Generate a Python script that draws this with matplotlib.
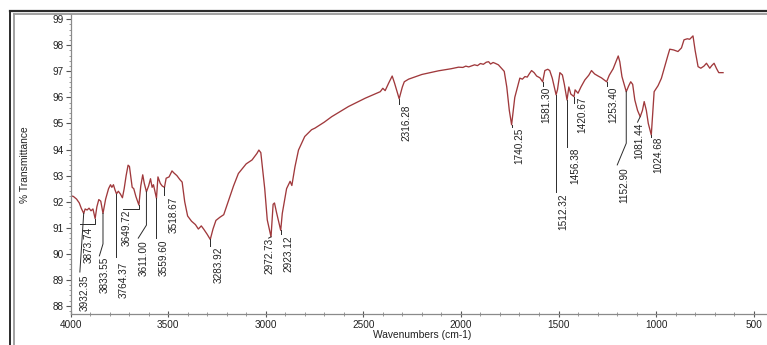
import matplotlib
matplotlib.use("Agg")
import matplotlib.pyplot as plt
from matplotlib.ticker import MultipleLocator
from matplotlib.lines import Line2D

plt.rcParams['font.family'] = ['Liberation Sans', 'DejaVu Sans']

# FTIR spectrum: wavenumber (cm-1) and % transmittance
wavenumber = [
    4000, 3985, 3969, 3955, 3945, 3932.35, 3925, 3915, 3905, 3895, 3885, 3873.74,
    3865, 3855, 3845, 3833.55, 3820, 3805, 3795, 3788, 3780, 3772, 3764.37, 3755,
    3745, 3734, 3725, 3715, 3705, 3698, 3690, 3684, 3676, 3665, 3649.72, 3640,
    3630, 3622, 3611.00, 3600, 3590, 3582, 3575, 3559.60, 3552, 3540, 3530,
    3518.67, 3510, 3495, 3480, 3470, 3455, 3440, 3428, 3415, 3400, 3380, 3360,
    3345, 3330, 3318, 3300, 3283.92, 3270, 3255, 3235, 3215, 3190, 3165, 3140,
    3100, 3070, 3045, 3035, 3025, 3005, 2992, 2972.73, 2962, 2955, 2945, 2923.12,
    2915, 2893, 2875, 2866, 2850, 2832, 2800, 2765, 2748, 2700, 2662, 2620, 2576,
    2530, 2490, 2450, 2413, 2400, 2388, 2370, 2352, 2340, 2316.28, 2300, 2290,
    2268, 2200, 2115, 2050, 2012, 1990, 1975, 1960, 1945, 1930, 1915, 1900, 1885,
    1870, 1858, 1848, 1835, 1825, 1808, 1790, 1778, 1765, 1752, 1740.25, 1724,
    1698, 1685, 1672, 1660, 1650, 1638, 1625, 1612, 1595, 1581.30, 1570, 1555,
    1545, 1532, 1512.32, 1505, 1493, 1480, 1470, 1456.38, 1447, 1437, 1420.67,
    1415, 1400, 1385, 1365, 1345, 1331, 1315, 1297, 1280, 1253.40, 1240, 1220,
    1194, 1186, 1175, 1152.90, 1140, 1130, 1120, 1109, 1095, 1081.44, 1070, 1061,
    1050, 1040, 1024.68, 1018, 1010, 990, 973, 956, 940, 930, 910, 888, 870, 857,
    840, 828, 811, 800, 785, 771, 755, 742, 732, 725, 715, 703, 690, 679, 657,
]
transmittance = [
    92.23, 92.20, 92.10, 91.95, 91.75, 91.55, 91.72, 91.68, 91.75, 91.65, 91.72, 91.35,
    91.80, 92.08, 92.02, 91.55, 92.10, 92.50, 92.65, 92.55, 92.65, 92.45, 92.30, 92.40,
    92.30, 92.15, 92.50, 93.00, 93.40, 93.35, 92.90, 92.55, 92.50, 92.20, 91.87, 92.60,
    93.03, 92.70, 92.38, 92.60, 92.88, 92.55, 92.65, 92.13, 92.95, 92.70, 92.60,
    92.55, 92.90, 92.95, 93.18, 93.10, 93.00, 92.85, 92.75, 92.00, 91.45, 91.25, 91.12,
    90.95, 91.07, 90.95, 90.75, 90.55, 90.95, 91.28, 91.40, 91.50, 92.05, 92.60, 93.08,
    93.45, 93.60, 93.85, 93.98, 93.88, 92.50, 91.30, 90.65, 91.90, 91.95, 91.60, 90.90,
    91.55, 92.50, 92.78, 92.62, 93.34, 93.98, 94.50, 94.76, 94.82, 95.05, 95.26, 95.45, 95.65,
    95.82, 95.97, 96.10, 96.22, 96.35, 96.26, 96.55, 96.82, 96.55, 95.95, 96.40, 96.60,
    96.70, 96.88, 97.02, 97.10, 97.16, 97.15, 97.20, 97.17, 97.21, 97.25, 97.22, 97.30, 97.27,
    97.35, 97.37, 97.28, 97.34, 97.31, 97.25, 97.10, 97.00, 96.40, 95.50, 94.95, 96.00,
    96.74, 96.70, 96.80, 96.78, 96.90, 97.03, 96.95, 96.82, 96.75, 96.60, 97.03, 97.08,
    97.03, 96.74, 96.10, 96.30, 96.95, 96.86, 96.50, 95.90, 96.40, 96.13, 96.03,
    96.29, 96.16, 96.40, 96.67, 96.85, 97.03, 96.90, 96.82, 96.75, 96.60, 96.85, 97.10,
    97.59, 97.37, 96.80, 96.22, 96.45, 96.60, 96.50, 95.90, 95.50, 95.26, 95.50, 95.84,
    95.50, 95.00, 94.56, 95.30, 96.22, 96.45, 96.73, 97.18, 97.60, 97.85, 97.82, 97.76, 97.90, 98.21,
    98.25, 98.23, 98.36, 97.80, 97.18, 97.12, 97.20, 97.31, 97.20, 97.12, 97.22, 97.31, 97.10, 96.95, 96.95,
]

# Labelled absorption peaks
peak_labels = [
    "3932.35", "3873.74", "3833.55", "3764.37", "3649.72", "3611.00", "3559.60",
    "3518.67", "3283.92", "2972.73", "2923.12", "2316.28", "1740.25", "1581.30",
    "1512.32", "1456.38", "1420.67", "1253.40", "1152.90", "1081.44", "1024.68",
]

# Where each label's top sits (wavenumber, transmittance)
label_pos = [
    (3925.7, 89.19), (3908.8, 91.04), (3826.8, 89.89), (3729.5, 89.70),
    (3712.0, 91.68), (3623.5, 90.53), (3524.6, 90.53), (3473.4, 92.19),
    (3242.8, 90.27), (2981.6, 90.60), (2884.2, 90.72), (2277.7, 95.71),
    (1700.8, 94.83), (1560.5, 96.40), (1475.4, 92.33), (1415.5, 94.06),
    (1376.0, 96.02), (1219.3, 96.40), (1164.4, 93.33), (1086.1, 95.02),
    (988.7, 94.48),
]

# Leader line bends after leaving each peak
leader_bends = [
    [(3952, 89.30)],
    [(3873.74, 91.15), (3952, 91.15)],
    [(3833.55, 90.38), (3852, 89.92)],
    [(3764.37, 89.88)],
    [(3649.72, 91.71), (3730, 91.71)],
    [(3611.0, 91.10), (3653, 90.60)],
    [(3559.6, 90.60)],
    [(3518.67, 92.25)],
    [(3283.92, 90.30)],
    [(2985, 90.60)],
    [(2923.12, 90.75)],
    [(2316.28, 95.75)],
    [(1740.25, 94.86)],
    [(1581.3, 96.43)],
    [(1512.32, 92.36)],
    [(1456.38, 94.10)],
    [(1420.67, 95.80)],
    [(1253.4, 96.42)],
    [(1152.9, 94.24), (1199, 93.41)],
    [(1095, 95.05)],
    [(1024.68, 94.50)],
]

W, H = 767, 345
fig = plt.figure(figsize=(W / 100, H / 100), dpi=100)
fig.patch.set_facecolor('white')

# Outer double frame
fig.add_artist(Line2D([10 / W, 10 / W], [0, 1 - 10.5 / H], transform=fig.transFigure,
                      color='#2a2a2a', lw=1.4))
fig.add_artist(Line2D([10 / W, 1], [1 - 10.5 / H, 1 - 10.5 / H], transform=fig.transFigure,
                      color='#2a2a2a', lw=1.6))
fig.add_artist(Line2D([14 / W, 14 / W], [0, 1 - 14.3 / H], transform=fig.transFigure,
                      color='#9a9a9a', lw=1.3))
fig.add_artist(Line2D([14 / W, 1], [1 - 14.3 / H, 1 - 14.3 / H], transform=fig.transFigure,
                      color='#9a9a9a', lw=1.3))

x_left, x_right = 4000, 400
px_per_unit = 0.1952
ax_left = 70.5
ax_w = (x_left - x_right) * px_per_unit
ax_bottom_px, ax_top_px = 314, 14
ax = fig.add_axes([ax_left / W, 1 - ax_bottom_px / H, ax_w / W, (ax_bottom_px - ax_top_px) / H])
ax.set_facecolor('white')

ax.plot(wavenumber, transmittance, color='#a0393c', lw=0.95)

ax.set_xlim(x_left, x_right)
ax.set_ylim(87.69, 99.20)

for side in ('top', 'right'):
    ax.spines[side].set_visible(False)
for side in ('left', 'bottom'):
    ax.spines[side].set_color('#8a8a8a')
    ax.spines[side].set_linewidth(0.9)

ax.xaxis.set_major_locator(MultipleLocator(500))
ax.xaxis.set_minor_locator(MultipleLocator(100))
ax.yaxis.set_major_locator(MultipleLocator(1))
ax.yaxis.set_minor_locator(MultipleLocator(0.2))
ax.tick_params(axis='x', which='major', direction='inout', length=4, width=0.8,
               color='#555555', labelsize=7.2, pad=2, labelcolor='#222222')
ax.tick_params(axis='x', which='minor', direction='inout', length=2.5, width=0.6,
               color='#888888')
ax.tick_params(axis='y', which='major', direction='out', length=3.5, width=0.8,
               color='#555555', labelsize=7.2, pad=1.5, labelcolor='#222222')
ax.tick_params(axis='y', which='minor', direction='out', length=1.5, width=0.6,
               color='#888888')

fig.text(25 / W, 1 - 165 / H, '% Transmittance', rotation=90, ha='center', va='center',
         fontsize=7.4, color='#222222')
fig.text(422 / W, 1 - 335 / H, 'Wavenumbers (cm-1)', ha='center', va='center',
         fontsize=7.4, color='#222222')

# Peak annotations with leader lines
for lab, (tx, ty), bends in zip(peak_labels, label_pos, leader_bends):
    pw = float(lab)
    pt = transmittance[wavenumber.index(pw)]
    xs = [pw] + [b[0] for b in bends]
    ys = [pt] + [b[1] for b in bends]
    ax.plot(xs, ys, color='#2a2a2a', lw=0.7)
    ax.text(tx, ty, lab, rotation=90, ha='center', va='top', fontsize=7.2,
            color='#222222')

fig.savefig('out.png', dpi=100)
